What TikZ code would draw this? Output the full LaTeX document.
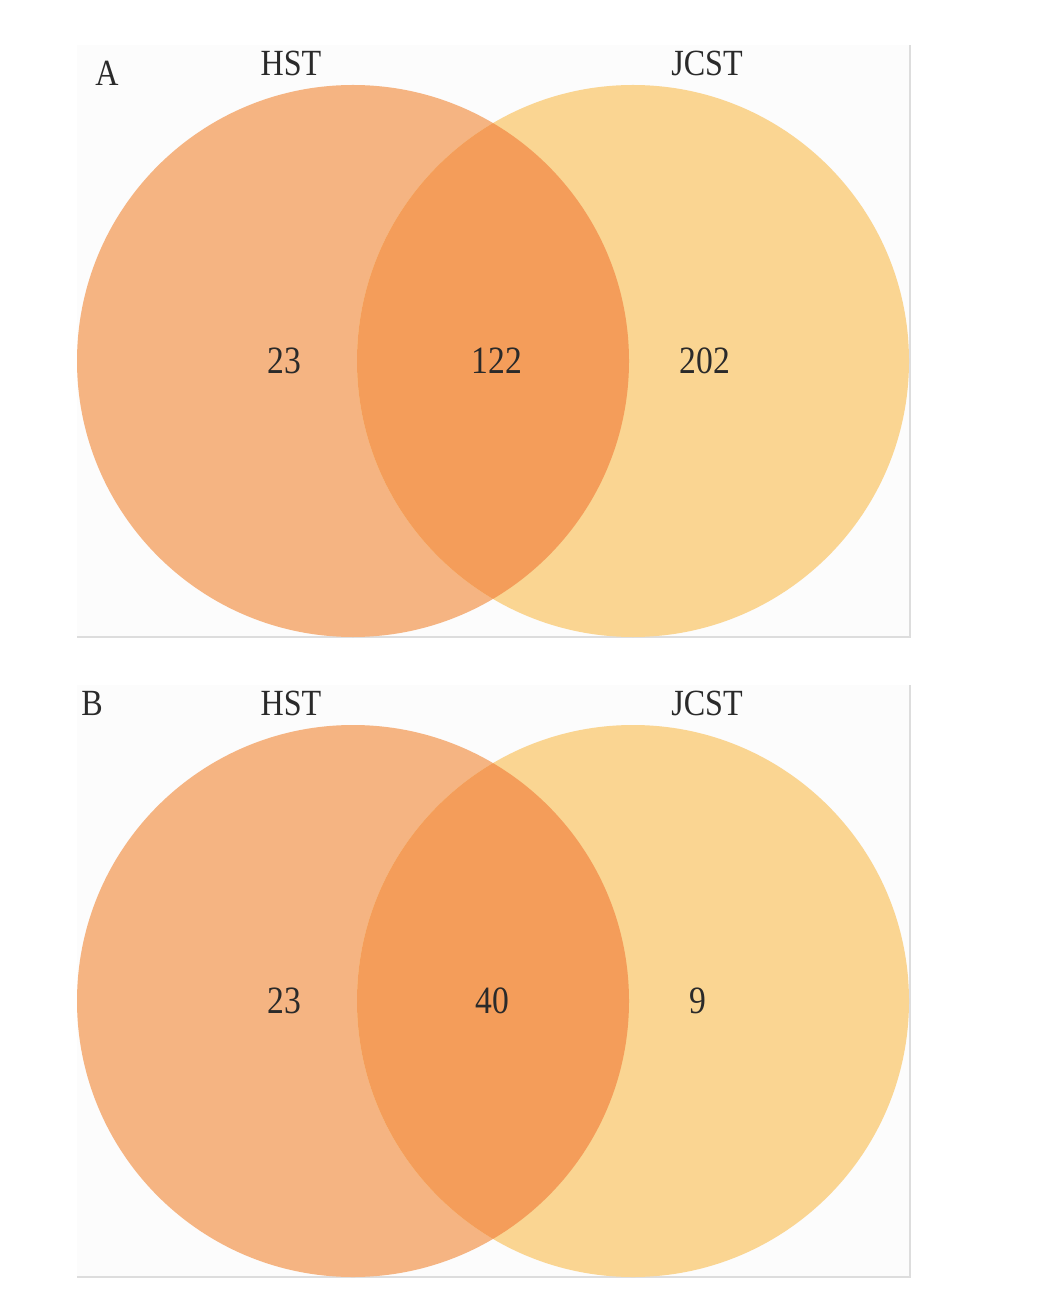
\documentclass[tikz,border=0pt]{standalone}
\usepackage{fontspec}
\setmainfont{Liberation Serif}[FakeStretch=0.87]
\usetikzlibrary{positioning}
\definecolor{hstfill}{HTML}{F5B482}
\definecolor{jcstfill}{HTML}{FAD592}
\definecolor{bothfill}{HTML}{F49D5A}
\definecolor{panelbg}{HTML}{FCFCFC}
\definecolor{panelrule}{HTML}{DDDDDD}
\definecolor{txtdark}{HTML}{2A2A2A}

\begin{document}
\begin{tikzpicture}[x=0.02cm, y=-0.02cm,
        lbl/.style={font=\fontsize{21}{24}\selectfont\color{txtdark}, inner sep=0pt},
        cnt/.style={font=\fontsize{22}{25}\selectfont\color{txtdark}, inner sep=0pt}
      ]
        \useasboundingbox (0,0) rectangle (1053,1310);
        % panels: offset, tag x, tag, left count, mid count, mid x, right count, right x
        \foreach \dy/\tx/\tag/\nl/\nm/\mx/\nr/\rx in {0/107/A/23/122/497/202/705, 640/92/B/23/40/492/9/698} {
          \fill[panelbg] (77,45+\dy) rectangle (910,637+\dy);
          \draw[panelrule, line width=0.8pt] (77,637+\dy) -- (910,637+\dy) -- (910,45+\dy);
          \fill[hstfill] (353,361+\dy) circle (276);
          \fill[jcstfill] (633,361+\dy) circle (276);
          \begin{scope}
            \clip (353,361+\dy) circle (276);
            \fill[bothfill] (633,361+\dy) circle (276);
          \end{scope}
          \node[lbl] (tag\tag) at (\tx,73+\dy-\dy/64) {\tag};
          \node[lbl] (hst\tag) at (291,63+\dy) {HST};
          \node[lbl] (jcst\tag) at (707,63+\dy) {JCST};
          \node[cnt] (onlyh\tag) at (284,361+\dy) {\nl};
          \node[cnt] (both\tag) at (\mx,361+\dy) {\nm};
          \node[cnt] (onlyj\tag) at (\rx,361+\dy) {\nr};
        }
      \end{tikzpicture}
\end{document}
